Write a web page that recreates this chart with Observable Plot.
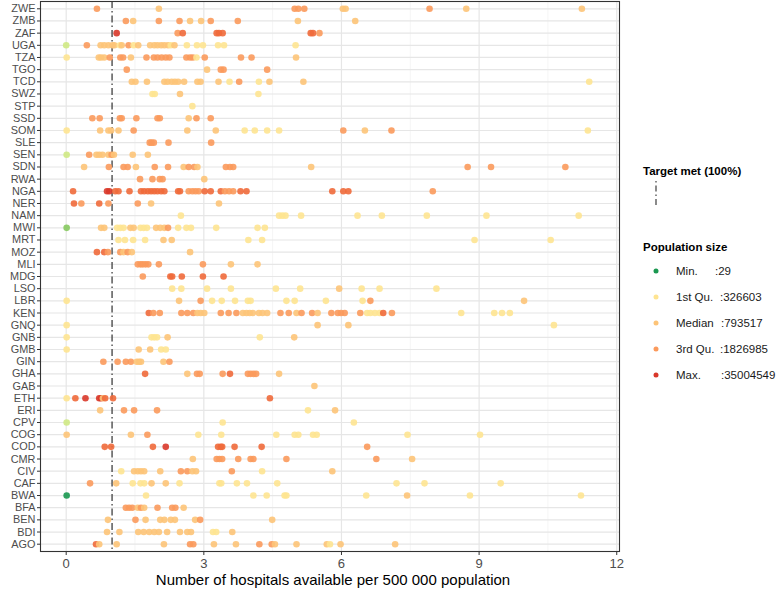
<!DOCTYPE html>
<html><head><meta charset="utf-8">
<script src="https://cdn.jsdelivr.net/npm/d3@7"></script>
<script src="https://cdn.jsdelivr.net/npm/@observablehq/plot@0.6"></script>
<style>
body{margin:0;background:#fff;font-family:"Liberation Sans",Arial,sans-serif;}
#chart{position:relative;width:778px;height:592px;}
</style></head><body><div id="chart"></div>
<script>
const countries = ["ZWE","ZMB","ZAF","UGA","TZA","TGO","TCD","SWZ","STP","SSD","SOM","SLE","SEN","SDN","RWA","NGA","NER","NAM","MWI","MRT","MOZ","MLI","MDG","LSO","LBR","KEN","GNQ","GNB","GMB","GIN","GHA","GAB","ETH","ERI","CPV","COG","COD","CMR","CIV","CAF","BWA","BFA","BEN","BDI","AGO"];

// hospitals per 500 000 population, one list per country (same order)
const hospitals = [
 [0.67,2.02,4.98,5.06,5.19,6.03,6.09,7.92,8.72,11.24],
 [1.30,1.46,2.02,2.47,2.70,2.94,3.15,3.74,5.05,6.30],
 [1.10,2.43,2.54,3.28,3.33,3.41,5.33,5.38,5.52],
 [0.0,0.45,0.75,0.83,0.92,1.01,1.05,1.17,1.21,1.36,1.47,1.57,1.83,1.92,1.99,2.07,2.14,2.22,2.28,2.36,2.63,2.85,2.98,3.31,3.44,5.0],
 [0.01,0.71,0.76,0.83,0.95,1.18,1.24,1.41,1.75,1.91,1.99,2.08,2.17,2.25,2.62,2.70,2.76,2.84,3.02,3.81,4.04,5.01],
 [1.32,3.07,3.37,3.43,4.38],
 [1.43,1.51,1.76,2.14,2.21,2.30,2.37,2.44,2.57,2.86,2.93,3.32,3.56,3.77,4.20,4.43,5.17,11.40],
 [1.88,1.93,2.48,4.19],
 [2.75],
 [0.57,0.73,1.17,1.21,1.53,1.99,2.04,2.67,2.84,3.15],
 [0.01,0.74,0.92,0.98,1.14,1.47,2.64,3.26,3.89,4.11,4.38,4.64,6.04,6.51,7.09,11.37],
 [1.82,1.86,1.91,2.23,3.16],
 [0.01,0.50,0.66,0.72,0.79,0.92,0.99,1.04,1.45,1.78],
 [0.39,0.93,1.25,1.34,1.52,1.93,2.22,2.56,2.67,2.79,2.86,3.48,3.57,3.64,5.34,8.75,9.26,10.88],
 [1.61,1.88,2.04,2.10,3.01],
 [0.15,0.89,0.94,1.07,1.14,1.38,1.63,1.70,1.78,1.85,1.92,1.99,2.07,2.14,2.44,2.48,2.67,2.75,2.82,2.89,3.02,3.15,3.37,3.46,3.55,3.64,3.80,3.93,5.80,6.04,6.15,7.99],
 [0.17,0.33,0.72,0.92,1.56,1.85,3.33],
 [2.5,4.64,4.71,4.78,5.12,6.35,6.88,7.86,9.16,11.17],
 [0.01,0.76,0.83,1.11,1.18,1.25,1.40,1.47,1.62,1.69,1.76,1.96,2.05,2.14,2.22,2.44,2.62,2.72,3.27,4.17,4.33],
 [1.14,1.28,1.46,1.72,2.12,2.30,3.97,4.27,8.90,10.56],
 [0.67,0.83,0.91,1.18,1.25,1.34,1.43,2.70],
 [1.56,1.62,1.67,1.73,1.79,2.02,2.98,3.59,4.17],
 [1.67,2.27,2.31,2.52,2.98,3.43],
 [2.31,2.51,3.07,3.59,4.57,5.10,5.95,6.44,6.83,8.07],
 [0.01,2.46,2.93,3.18,3.39,3.68,3.96,4.02,4.80,4.98,5.66,6.46,6.63,9.98],
 [1.80,1.90,2.04,2.51,2.64,2.77,2.86,2.93,3.01,3.37,3.54,3.71,3.85,3.93,4.0,4.07,4.20,4.28,4.38,4.67,4.85,5.02,5.13,5.36,5.48,5.78,5.92,5.99,6.07,6.41,6.56,6.63,6.73,6.83,6.91,7.10,8.61,9.33,9.50,9.67],
 [0.01,5.48,6.15,10.63],
 [0.01,1.86,1.92,1.98,2.21,4.22,4.97],
 [0.01,1.58,1.83,2.07,2.17],
 [0.81,1.12,1.30,1.41,1.54,1.59,1.63,2.12,2.25],
 [1.72,2.64,2.85,2.91,3.41,3.57,3.96,4.02,4.08,4.14,4.64],
 [5.41],
 [0.01,0.20,0.42,0.72,0.76,0.80,0.85,1.02,4.44],
 [0.74,1.26,1.48,1.98,5.27,5.86],
 [0.01,3.41,6.27],
 [0.01,1.41,1.77,2.88,3.38,4.58,4.98,5.06,5.38,5.46,7.44,9.02],
 [0.84,0.98,1.89,2.17,3.31,3.37,3.40,3.67,4.26,6.56],
 [2.76,3.28,3.34,3.40,3.75,4.02,4.08,4.80,6.76,7.54],
 [1.20,1.48,1.56,1.63,1.70,2.05,2.50,2.64,2.75,2.83,3.61,4.27,5.80],
 [0.52,1.09,1.45,1.62,1.70,1.86,2.17,2.47,3.34,3.38,3.72,3.94,4.60,7.20,7.81,9.47],
 [0.01,1.74,4.08,4.37,4.76,4.80,6.54,7.43,8.80,11.22],
 [1.30,1.37,1.44,1.56,1.63,1.70,1.99,2.31,2.38,2.56],
 [0.91,1.51,1.73,2.05,2.14,2.28,2.37,2.81,2.92,4.49],
 [0.89,1.16,1.57,1.69,1.81,1.92,2.02,2.20,2.48,2.64,2.72,3.20,3.27,3.62],
 [0.65,0.72,1.10,2.13,2.70,2.77,3.22,3.70,4.21,4.48,4.55,5.02,5.68,5.75,5.98,7.17]
];

// population-size class of each point (one letter per point)
const popClass = [
 "OMOOOMMOMM","OMOOMMOOMM","DORRRRRRO","gOMMMMMYMOYMMMMMMMYMYYYYYY","YMMMOOOMOOOOOOOOOYOOOM",
 "OMOOO","MMMMMMMMMMMMYOYMMY","YYMY","Y","OOOOOOOMOO","YMMMMOMMYYYYOMOY","OOOOO","gOMMMMOMMM",
 "MOOOMOOMOOMOOOMOOO","OOOOM","RDDRRRRRRRRRRRRROOOORRROOORRRRRO","ROROOMM","YYYYYYYYYY",
 "hMMYYYMMYYYMMMOYYYYYY","YYYYMMYYYY","RROOMOMM","OOOOOOOMM","ORRRRR","YYYYYYMYYY","YMOYYYYYYYYYOM",
 "ROOOOOMMMOOOMMMMMMMOOMOOMOOOOOYYYYROYYYY","YMMY","YYYYMYM","YMMYY","OOOOMMMMO","RMOOOROOOOM","M",
 "YRDDDMRRR","MOOOYM","gYY","MMOYYYYYYYYY","RRRDRRRRRO","MOOOOOOOOM","YMMMMMOOMMOYM",
 "OMYYYMMYYYYYYYYY","GYYYYYYMYY","OOOMOMOOOM","MOMMMMMMOM","MMMMMMMMMMMYYM","RMMMOOMMOOMMMYMM"
];

const xTicks = [0, 3, 6, 9, 12];
const xMinor = [1.5, 4.5, 7.5, 10.5];
const target = 1;
const legendLabels = ["Min.", "1st Qu.", "Median", "3rd Qu.", "Max."];
const legendValues = [29, 326603, 793517, 1826985, 35004549];
const legendClasses = ["G", "Y", "M", "O", "D"];

const colorMap = {G:"#1a9850", h:"#86c95f", g:"#cfe984", Y:"#fee491", M:"#fdc478", O:"#fb9a5c", R:"#f06a3b", D:"#d9382a"};

const points = [];
countries.forEach((c, i) => hospitals[i].forEach((v, j) => points.push({country: c, value: v, cls: popClass[i][j]})));

const FONT = "'Liberation Sans', Arial, sans-serif";
const plot = Plot.plot({
  width: 778, height: 592,
  marginLeft: 40, marginRight: 159, marginTop: 1, marginBottom: 41,
  style: {fontFamily: FONT, background: "#fff", overflow: "visible"},
  x: {domain: [-0.56, 12.06], ticks: xTicks, tickSize: 4, tickPadding: 3, label: null},
  y: {type: "point", domain: countries, padding: 0.6, round: false, tickSize: 3, tickPadding: 2, label: null},
  color: {type: "identity"},
  marks: [
    Plot.ruleX(xMinor, {stroke: "#efefef", strokeWidth: 0.7}),
    Plot.ruleX(xTicks, {stroke: "#e6e6e6", strokeWidth: 1.2}),
    Plot.ruleY(countries, {y: d => d, stroke: "#e6e6e6", strokeWidth: 1.2}),
    Plot.ruleX([target], {stroke: "#4d4d4d", strokeWidth: 1.4, strokeDasharray: "7,3,1.5,3"}),
    Plot.dot(points, {x: "value", y: "country", r: 3.3, fill: d => colorMap[d.cls], fillOpacity: 0.9}),
    Plot.frame({stroke: "#333", strokeWidth: 1.1})
  ]
});
document.getElementById("chart").appendChild(plot);

const svg = d3.select(plot);
svg.selectAll('g[aria-label^="y-axis"] text').style("font-size", "10.9px").attr("fill", "#4d4d4d");
svg.selectAll('g[aria-label^="x-axis"] text').style("font-size", "13px").attr("fill", "#4d4d4d");
svg.selectAll('g[aria-label^="y-axis"] line, g[aria-label^="y-axis"] path, g[aria-label^="x-axis"] line, g[aria-label^="x-axis"] path').attr("stroke", "#333");

svg.append("text").attr("x", 333).attr("y", 585).attr("text-anchor", "middle")
  .style("font-size", "15px").attr("fill", "#000").attr("font-family", FONT)
  .text("Number of hospitals available per 500 000 population");

const lg = svg.append("g").attr("font-family", FONT).attr("text-anchor", "start");
lg.append("text").attr("x", 643).attr("y", 175).attr("font-weight", "bold").style("font-size", "11.5px").attr("fill", "#000").text("Target met (100%)");
lg.append("line").attr("x1", 656).attr("x2", 656).attr("y1", 181).attr("y2", 208)
  .attr("stroke", "#4d4d4d").attr("stroke-width", 1.3).attr("stroke-dasharray", "1.5,3,6,3");
lg.append("text").attr("x", 643).attr("y", 251).attr("font-weight", "bold").style("font-size", "11.5px").attr("fill", "#000").text("Population size");
const valX = [715, 720, 721, 720, 721];
legendLabels.forEach((lab, i) => {
  const cy = 271 + i * 26;
  lg.append("circle").attr("cx", 656).attr("cy", cy).attr("r", 2.5).attr("fill", colorMap[legendClasses[i]]);
  lg.append("text").attr("x", 676).attr("y", cy + 4.2).style("font-size", "11.5px").attr("fill", "#1a1a1a").text(lab);
  lg.append("text").attr("x", valX[i]).attr("y", cy + 4.2).style("font-size", "11.5px").attr("fill", "#1a1a1a").text(":" + legendValues[i]);
});
</script></body></html>
